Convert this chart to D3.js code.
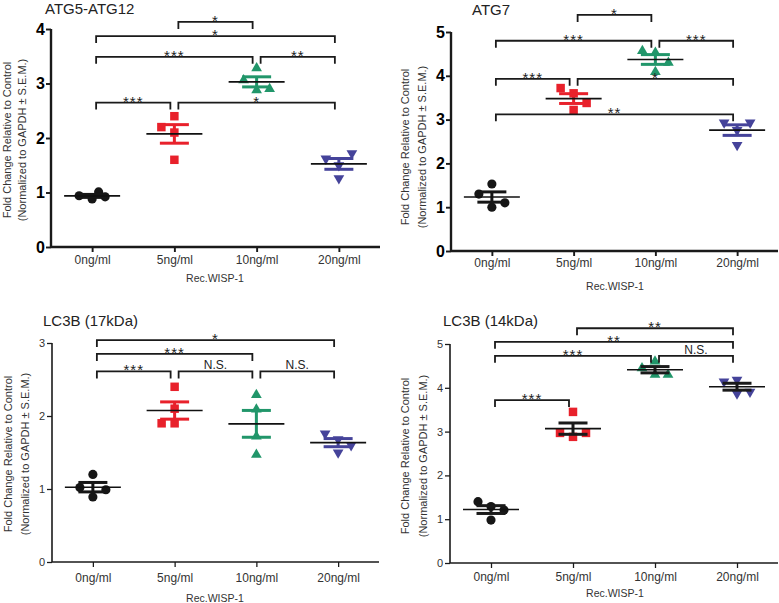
<!DOCTYPE html>
<html>
<head>
<meta charset="utf-8">
<script src="https://cdnjs.cloudflare.com/ajax/libs/d3/7.8.5/d3.min.js"></script>
<style>
  html, body { margin: 0; padding: 0; background: #ffffff; }
  svg { display: block; }
  text { font-family: "Liberation Sans", Arial, Helvetica, sans-serif; }
</style>
</head>
<body>
<svg id="chart" width="779" height="603"></svg>
<script>
// ---------------- DATA ----------------
const categories = ["0ng/ml", "5ng/ml", "10ng/ml", "20ng/ml"];
const titles = ["ATG5-ATG12", "ATG7", "LC3B (17kDa)", "LC3B (14kDa)"];
const xTitle = "Rec.WISP-1";
const yTitleLines = ["Fold Change Relative to Control", "(Normalized to GAPDH \u00B1 S.E.M.)"];

// individual replicate values per category (4 replicates each)
const atg5Values  = [[0.88, 0.94, 0.92, 1.01], [2.10, 2.20, 2.40, 1.60], [2.88, 3.28, 3.06, 2.90], [1.50, 1.62, 1.72, 1.26]];
const atg7Values  = [[1.53, 1.00, 1.30, 1.10], [3.60, 3.72, 3.38, 3.22], [4.53, 4.57, 4.30, 4.09], [2.76, 2.93, 2.93, 2.42]];
const lc3b17Values = [[1.20, 0.89, 1.02, 0.99], [1.90, 2.10, 2.40, 1.90], [2.29, 2.09, 1.72, 1.47], [1.68, 1.76, 1.60, 1.50]];
const lc3b14Values = [[1.29, 1.40, 1.21, 0.98], [3.45, 2.88, 2.97, 2.97], [4.30, 4.45, 4.30, 4.60], [4.18, 3.87, 4.14, 3.91]];

// y tick values
const atg5Ticks  = [0, 1, 2, 3, 4];
const atg7Ticks  = [0, 1, 2, 3, 4, 5];
const lc3b17Ticks = [0, 1, 2, 3];
const lc3b14Ticks = [0, 1, 2, 3, 4, 5];

// significance brackets: from / to category, level (data units), label
const atg5Sig = [
  { from: "5ng/ml", to: "10ng/ml", level: 4.13, label: "*" },
  { from: "0ng/ml", to: "20ng/ml", level: 3.87, label: "*" },
  { from: "0ng/ml", to: "10ng/ml", level: 3.49, label: "***" },
  { from: "10ng/ml", to: "20ng/ml", level: 3.49, label: "**" },
  { from: "0ng/ml", to: "5ng/ml", level: 2.65, label: "***" },
  { from: "5ng/ml", to: "20ng/ml", level: 2.65, label: "*" }
];
const atg7Sig = [
  { from: "5ng/ml", to: "10ng/ml", level: 5.39, label: "*" },
  { from: "0ng/ml", to: "10ng/ml", level: 4.80, label: "***" },
  { from: "10ng/ml", to: "20ng/ml", level: 4.80, label: "***" },
  { from: "0ng/ml", to: "5ng/ml", level: 3.93, label: "***" },
  { from: "5ng/ml", to: "20ng/ml", level: 3.93, label: "*" },
  { from: "0ng/ml", to: "20ng/ml", level: 3.12, label: "**" }
];
const lc3b17Sig = [
  { from: "0ng/ml", to: "20ng/ml", level: 3.04, label: "*" },
  { from: "0ng/ml", to: "10ng/ml", level: 2.85, label: "***" },
  { from: "0ng/ml", to: "5ng/ml", level: 2.61, label: "***" },
  { from: "5ng/ml", to: "10ng/ml", level: 2.61, label: "N.S." },
  { from: "10ng/ml", to: "20ng/ml", level: 2.61, label: "N.S." }
];
const lc3b14Sig = [
  { from: "5ng/ml", to: "20ng/ml", level: 5.36, label: "**" },
  { from: "0ng/ml", to: "20ng/ml", level: 5.05, label: "**" },
  { from: "0ng/ml", to: "10ng/ml", level: 4.73, label: "***" },
  { from: "10ng/ml", to: "20ng/ml", level: 4.73, label: "N.S." },
  { from: "0ng/ml", to: "5ng/ml", level: 3.72, label: "***" }
];

// ---------------- STYLE / LAYOUT ----------------
const groupColors = ["#161616", "#e8212b", "#21966a", "#45439a"];
const groupSymbols = ["circle", "square", "triangle", "triangleDown"];

const panels = [
  { title: titles[0], values: atg5Values, ticks: atg5Ticks, sig: atg5Sig,
    x0: 51, x1: 380, yBottom: 247, yTop: 29, bold: true, semColored: true,
    titleX: 45, titleY: 14, yt1: 7, yt2: 22, ytY: 140, xtY: 282, xtX: 215, tickPad: 3 },
  { title: titles[1], values: atg7Values, ticks: atg7Ticks, sig: atg7Sig,
    x0: 451, x1: 778, yBottom: 251, yTop: 32, bold: true, semColored: true,
    titleX: 472, titleY: 15, yt1: 405, yt2: 422, ytY: 147, xtY: 290, xtX: 615, tickPad: 2 },
  { title: titles[2], values: lc3b17Values, ticks: lc3b17Ticks, sig: lc3b17Sig,
    x0: 52, x1: 379, yBottom: 562, yTop: 343, bold: false, semColored: true,
    titleX: 43, titleY: 326, yt1: 8, yt2: 25, ytY: 454, xtY: 602, xtX: 215, tickPad: 6 },
  { title: titles[3], values: lc3b14Values, ticks: lc3b14Ticks, sig: lc3b14Sig,
    x0: 450, x1: 778, yBottom: 563, yTop: 344, bold: false, semColored: false,
    titleX: 443, titleY: 326, yt1: 405, yt2: 423, ytY: 456, xtY: 597, xtX: 615, tickPad: 4 }
];

const svg = d3.select("#chart");
const ink = "#1a1a1a";

function symbolFor(name) {
  if (name === "circle") return d3.symbol().type(d3.symbolCircle).size(66)();
  if (name === "square") return d3.symbol().type(d3.symbolSquare).size(72)();
  return d3.symbol().type(d3.symbolTriangle).size(50)();
}

// simple GraphPad-like scatter placement (beeswarm by slots)
function placePoints(vals, y) {
  const slotW = 13, thr = 12.5;
  const placed = [];
  let lastSide = 1;
  vals.forEach(v => {
    const py = y(v);
    const free = s => placed.filter(p => p.s === s).every(p => Math.abs(p.py - py) >= thr);
    let s;
    if (free(0)) s = 0;
    else {
      const first = -lastSide;
      if (free(first)) { s = first; lastSide = first; }
      else if (free(-first)) { s = -first; lastSide = -first; }
      else s = 0.5;
    }
    placed.push({ v, py, s, dx: s * slotW });
  });
  return placed;
}

panels.forEach(P => {
  const g = svg.append("g");
  const yMax = P.ticks[P.ticks.length - 1];
  const x = d3.scalePoint().domain(categories).range([P.x0, P.x1]).padding(0.5);
  const y = d3.scaleLinear().domain([0, yMax]).range([P.yBottom, P.yTop]);
  const axisW = P.bold ? 2.4 : 1.6;

  // y axis
  const yAxis = g.append("g").attr("transform", `translate(${P.x0},0)`)
    .call(d3.axisLeft(y).tickValues(P.ticks).tickFormat(d3.format("d")).tickSize(5).tickPadding(P.bold ? 1 : 2));
  yAxis.select(".domain").attr("stroke", ink).attr("stroke-width", axisW).attr("d", `M0,${P.yBottom}V${P.yTop}`);
  yAxis.selectAll(".tick line").attr("stroke", ink).attr("stroke-width", axisW * 0.8);
  yAxis.selectAll(".tick text")
    .attr("fill", P.bold ? "#000" : "#333")
    .style("font-size", P.bold ? "16px" : "11px")
    .style("font-weight", P.bold ? "bold" : "normal");

  // x axis
  const xAxis = g.append("g").attr("transform", `translate(0,${P.yBottom})`)
    .call(d3.axisBottom(x).tickSize(5).tickPadding(P.tickPad));
  xAxis.select(".domain").attr("stroke", ink).attr("stroke-width", axisW).attr("d", `M${P.x0},0H${P.x1}`);
  xAxis.selectAll(".tick line").attr("stroke", ink).attr("stroke-width", axisW * 0.8);
  xAxis.selectAll(".tick text").attr("fill", "#333").style("font-size", "12px");

  // titles
  g.append("text").attr("x", P.titleX).attr("y", P.titleY)
    .style("font-size", "15px").attr("fill", "#222").text(P.title);
  g.append("text").attr("x", P.xtX).attr("y", P.xtY).attr("text-anchor", "middle")
    .style("font-size", "10.5px").attr("fill", "#333").text(xTitle);
  [P.yt1, P.yt2].forEach((cx, i) => {
    g.append("text")
      .attr("transform", `translate(${cx},${P.ytY}) rotate(-90)`)
      .attr("text-anchor", "middle").attr("dy", "0.35em")
      .style("font-size", "11px").attr("fill", "#333").text(yTitleLines[i]);
  });

  // data groups
  P.values.forEach((vals, gi) => {
    const cx = x(categories[gi]);
    const col = groupColors[gi];
    const pts = placePoints(vals, y);
    const gg = g.append("g");
    gg.selectAll("path.pt").data(pts).join("path").attr("class", "pt")
      .attr("d", symbolFor(groupSymbols[gi]))
      .attr("transform", d => `translate(${cx + d.dx},${d.py})` + (groupSymbols[gi] === "triangleDown" ? " rotate(180)" : ""))
      .attr("fill", col);

    const mean = d3.mean(vals);
    const sem = d3.deviation(vals) / Math.sqrt(vals.length);
    const semCol = P.semColored ? col : "#1a1a1a";
    gg.append("line").attr("x1", cx).attr("x2", cx).attr("y1", y(mean + sem)).attr("y2", y(mean - sem))
      .attr("stroke", semCol).attr("stroke-width", 3);
    [mean + sem, mean - sem].forEach(v => {
      gg.append("line").attr("x1", cx - 14.5).attr("x2", cx + 14.5).attr("y1", y(v)).attr("y2", y(v))
        .attr("stroke", semCol).attr("stroke-width", 3);
    });
    gg.append("line").attr("x1", cx - 28).attr("x2", cx + 28).attr("y1", y(mean)).attr("y2", y(mean))
      .attr("stroke", "#111").attr("stroke-width", 1.6);
  });

  // significance brackets
  const inset = 4, tip = 7;
  P.sig.forEach(s => {
    const xa = x(s.from) + inset, xb = x(s.to) - inset, ly = y(s.level);
    g.append("path").attr("d", `M${xa},${ly + tip}V${ly}H${xb}V${ly + tip}`)
      .attr("fill", "none").attr("stroke", ink).attr("stroke-width", 1.8);
    const isNS = s.label === "N.S.";
    g.append("text").attr("x", (xa + xb) / 2).attr("y", isNS ? ly - 2 : ly + 4)
      .attr("text-anchor", "middle")
      .style("font-size", isNS ? "12px" : "15px")
      .style("letter-spacing", isNS ? "0px" : "1px")
      .attr("fill", "#222").text(s.label);
  });
});
</script>
</body>
</html>
